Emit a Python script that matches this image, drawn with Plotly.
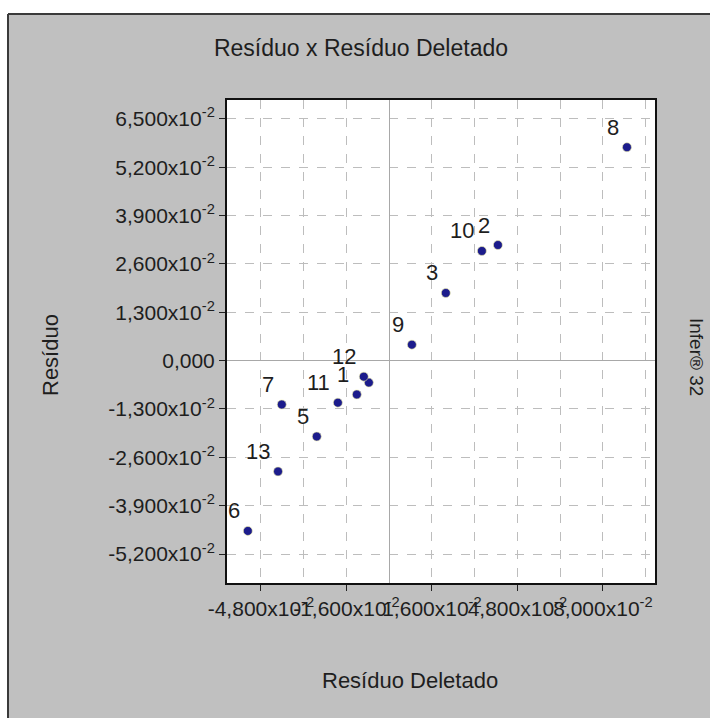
import plotly.graph_objects as go

# ---- data ----
point_ids = ["1", "2", "3", "4", "5", "6", "7", "8", "9", "10", "11", "12", "13"]
point_labels = ["1", "2", "3", "", "5", "6", "7", "8", "9", "10", "11", "12", "13"]
residuo_deletado = [-0.0121, 0.0407, 0.0212, -0.0076, -0.0271, -0.0529, -0.0402,
                    0.0890, 0.0085, 0.0347, -0.0192, -0.0095, -0.0416]
residuo = [-0.0091, 0.0311, 0.0182, -0.0059, -0.0204, -0.0458, -0.0118,
           0.0574, 0.0043, 0.0295, -0.0113, -0.0043, -0.0298]

y_tickvals = [-0.052, -0.039, -0.026, -0.013, 0.0, 0.013, 0.026, 0.039, 0.052, 0.065]
y_ticktext = ["-5,200x10<sup>-2</sup>", "-3,900x10<sup>-2</sup>", "-2,600x10<sup>-2</sup>",
              "-1,300x10<sup>-2</sup>", "0,000", "1,300x10<sup>-2</sup>",
              "2,600x10<sup>-2</sup>", "3,900x10<sup>-2</sup>", "5,200x10<sup>-2</sup>",
              "6,500x10<sup>-2</sup>"]
x_tickvals = [-0.048, -0.016, 0.016, 0.048, 0.080]
x_ticktext = ["-4,800x10<sup>-2</sup>", "-1,600x10<sup>-2</sup>", "1,600x10<sup>-2</sup>",
              "4,800x10<sup>-2</sup>", "8,000x10<sup>-2</sup>"]

title_text = "Resíduo x Resíduo Deletado"
x_title = "Resíduo Deletado"
y_title = "Resíduo"
side_text = "Infer® 32"

FONT = "Liberation Sans, Arial, sans-serif"
TXT = "#1e1e1e"
GRAY = "#c0c0c0"

# plot area in pixels
L, R, T, B = 227, 655, 100, 583
W, H = 710, 718


def px(xp):
    return (xp - L) / (R - L)


def py(yp):
    return (B - yp) / (B - T)


fig = go.Figure()
fig.add_trace(go.Scatter(
    x=residuo_deletado, y=residuo, mode="markers",
    marker=dict(size=9, color="#1c1c8c", line=dict(width=1, color="rgba(240,240,170,0.6)")),
    hoverinfo="text", text=point_ids, showlegend=False,
))

annotations = []
for xv, yv, lab in zip(residuo_deletado, residuo, point_labels):
    if lab:
        annotations.append(dict(
            x=xv, y=yv, xref="x", yref="y", text=lab, showarrow=False,
            xanchor="right", yanchor="middle", xshift=-6, yshift=20,
            font=dict(family=FONT, size=22, color=TXT),
        ))

annotations += [
    dict(x=px(410), y=py(680), xref="paper", yref="paper", text=x_title, showarrow=False,
         xanchor="center", yanchor="middle", font=dict(family=FONT, size=22, color=TXT)),
    dict(x=px(50), y=py(355), xref="paper", yref="paper", text=y_title, showarrow=False,
         textangle=-90, xanchor="center", yanchor="middle",
         font=dict(family=FONT, size=22, color=TXT)),
    dict(x=px(697), y=py(357), xref="paper", yref="paper", text=side_text, showarrow=False,
         textangle=90, xanchor="center", yanchor="middle",
         font=dict(family=FONT, size=19, color=TXT)),
]

shapes = [
    # white outside strips (top and left) of the window frame
    dict(type="rect", xref="paper", yref="paper", x0=px(-5), x1=px(W + 5), y0=py(14), y1=py(-5),
         fillcolor="white", line=dict(width=0), layer="above"),
    dict(type="rect", xref="paper", yref="paper", x0=px(-5), x1=px(8), y0=py(W + 20), y1=py(-5),
         fillcolor="white", line=dict(width=0), layer="above"),
    dict(type="line", xref="paper", yref="paper", x0=px(8), x1=px(W + 5), y0=py(14), y1=py(14),
         line=dict(color="#3a3a3a", width=2), layer="above"),
    dict(type="line", xref="paper", yref="paper", x0=px(8), x1=px(8), y0=py(14), y1=py(H + 5),
         line=dict(color="#3a3a3a", width=2), layer="above"),
]

fig.update_layout(
    width=W, height=H,
    margin=dict(l=L, r=W - R, t=T, b=H - B, pad=0),
    paper_bgcolor=GRAY, plot_bgcolor="white",
    title=dict(text=title_text, x=361 / W, xanchor="center", y=1 - 48 / H, yanchor="middle",
               font=dict(family=FONT, size=23, color=TXT)),
    font=dict(family=FONT, color=TXT),
    annotations=annotations, shapes=shapes,
    showlegend=False,
)

fig.update_xaxes(
    range=[-0.0607, 0.0995], tickmode="array", tickvals=x_tickvals, ticktext=x_ticktext,
    tickangle=0, tickfont=dict(family=FONT, size=21, color=TXT),
    ticks="outside", ticklen=6, tickcolor="#222", tickwidth=1,
    showline=True, mirror=True, linecolor="#111", linewidth=2,
    showgrid=True, gridcolor="#bdbdbd", griddash="dash", gridwidth=1,
    minor=dict(tick0=-0.048, dtick=0.016, showgrid=True, gridcolor="#bdbdbd",
               griddash="dash", gridwidth=1, ticks=""),
    zeroline=True, zerolinecolor="#a8a8a8", zerolinewidth=1,
    fixedrange=True,
)
fig.update_yaxes(
    range=[-0.0598, 0.0701], tickmode="array", tickvals=y_tickvals, ticktext=y_ticktext,
    tickfont=dict(family=FONT, size=21, color=TXT),
    ticks="outside", ticklen=6, tickcolor="#222", tickwidth=1,
    showline=True, mirror=True, linecolor="#111", linewidth=2,
    showgrid=True, gridcolor="#bdbdbd", griddash="dash", gridwidth=1,
    zeroline=True, zerolinecolor="#a8a8a8", zerolinewidth=1,
    fixedrange=True,
)

fig.write_html("out.html", config={"displayModeBar": False})
